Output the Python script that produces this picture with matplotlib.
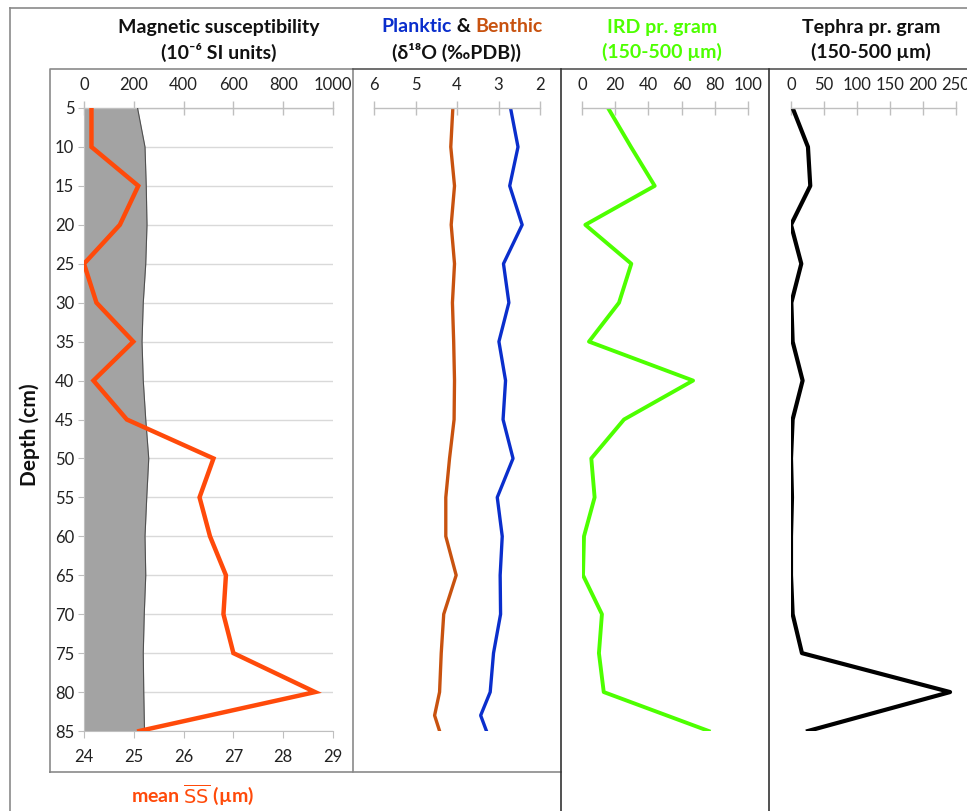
import matplotlib
matplotlib.use("Agg")
import matplotlib.pyplot as plt
from matplotlib.lines import Line2D

plt.rcParams['font.family'] = ['Lato', 'DejaVu Sans']

# ---------------- data ----------------
depth = [5, 10, 15, 20, 25, 30, 35, 40, 45, 50, 55, 60, 65, 70, 75, 80, 85]
depth_iso = [5, 10, 15, 20, 25, 30, 35, 40, 45, 50, 55, 60, 65, 70, 75, 80, 83, 85]

mag_sus = [215, 245, 250, 253, 248, 238, 233, 238, 248, 260, 252, 245, 248, 242, 238, 240, 243]
mean_ss = [24.15, 24.15, 25.09, 24.72, 24.00, 24.25, 24.99, 24.19, 24.86, 26.60,
           26.32, 26.53, 26.85, 26.80, 27.00, 28.64, 25.11]
planktic = [2.71, 2.53, 2.73, 2.43, 2.88, 2.75, 2.99, 2.83, 2.89, 2.65,
            3.03, 2.91, 2.96, 2.95, 3.12, 3.20, 3.43, 3.29]
benthic = [4.10, 4.15, 4.06, 4.14, 4.06, 4.11, 4.08, 4.06, 4.07, 4.18,
           4.27, 4.27, 4.02, 4.32, 4.38, 4.42, 4.54, 4.42]
ird = [15.7, 29.5, 43.8, 2.0, 29.7, 22.3, 4.2, 66.9, 25.3, 5.6,
       7.6, 1.2, 0.6, 12.0, 10.2, 13.1, 76.3]
tephra = [2.5, 25.7, 29.2, 0.0, 15.6, 0.5, 2.5, 17.6, 2.5, 0.0,
          1.5, 0.0, 0.0, 2.5, 16.6, 241, 25.7]

depth_ticks = [5, 10, 15, 20, 25, 30, 35, 40, 45, 50, 55, 60, 65, 70, 75, 80, 85]
ms_ticks = [0, 200, 400, 600, 800, 1000]
ss_ticks = [24, 25, 26, 27, 28, 29]
iso_ticks = [6, 5, 4, 3, 2]
ird_ticks = [0, 20, 40, 60, 80, 100]
tephra_ticks = [0, 50, 100, 150, 200, 250]

# ---------------- colours ----------------
C_SS = '#FF4A0A'
C_PL = '#0A2ECC'
C_BE = '#C8520F'
C_IRD = '#4DFF00'
C_TE = '#000000'
C_FILL = '#A3A3A3'
C_AX = '#BFBFBF'
C_GRID = '#D9D9D9'
C_LBL = '#222222'

W, H = 967, 811
fig = plt.figure(figsize=(W / 100, H / 100), dpi=100)


def fx(x):
    return x / W


def fy(y):
    return 1 - y / H


def add_panel(x0, x1, y0=108, y1=731):
    return fig.add_axes([fx(x0), fy(y1), fx(x1 - x0), (y1 - y0) / H])


def frame_line(xs, ys, color, lw=1.2):
    fig.add_artist(Line2D([fx(v) for v in xs], [fy(v) for v in ys],
                          color=color, lw=lw, transform=fig.transFigure))


# outer frame and panel borders
frame_line([10, 10], [8, 811], '#8A8A8A')
frame_line([10, 967], [8, 8], '#8A8A8A')
frame_line([50, 50, 353, 353, 50], [772, 69, 69, 772, 772], '#8A8A8A')
frame_line([353, 967], [69, 69], '#555555')
frame_line([353, 561], [772, 772], '#8A8A8A')
frame_line([561, 561], [69, 811], '#333333')
frame_line([769, 769], [69, 811], '#333333')

TICK_FS = 12


def style_top(ax, ticks, lim):
    ax.set_xlim(*lim)
    ax.set_ylim(85, 5)
    ax.xaxis.tick_top()
    ax.set_xticks(ticks)
    ax.set_xticklabels([str(t) for t in ticks])
    ax.tick_params(axis='x', which='both', direction='inout', length=10,
                   color=C_AX, width=1, labelsize=TICK_FS, pad=6, labelcolor=C_LBL)
    for s in ['left', 'right', 'bottom']:
        ax.spines[s].set_visible(False)
    ax.spines['top'].set_visible(True)
    ax.spines['top'].set_color(C_AX)
    ax.spines['top'].set_linewidth(1)
    ax.set_yticks([])
    ax.patch.set_visible(False)


# ---------- panel 1 ----------
ax1 = add_panel(84, 333)
ax1b = ax1.twiny()

style_top(ax1, ms_ticks, (0, 1000))
ax1.set_yticks(depth_ticks)
ax1.set_yticklabels([str(d) for d in depth_ticks])
ax1.tick_params(axis='y', direction='out', length=4, color=C_AX, labelsize=TICK_FS,
                pad=3, labelcolor=C_LBL)
ax1.spines['left'].set_visible(True)
ax1.spines['left'].set_color(C_AX)
ax1.set_axisbelow(True)
ax1.grid(axis='y', color=C_GRID, lw=1)
ax1.fill_betweenx(depth, 0, mag_sus, color=C_FILL, lw=0, zorder=2)
ax1.plot(mag_sus, depth, color='#505050', lw=0.8, zorder=3)

ax1b.set_xlim(24, 29)
ax1b.set_ylim(85, 5)
ax1b.xaxis.tick_bottom()
ax1b.set_xticks(ss_ticks)
ax1b.set_xticklabels([str(t) for t in ss_ticks])
ax1b.tick_params(axis='x', direction='out', length=5, color=C_AX, labelsize=TICK_FS,
                 pad=8, labelcolor=C_LBL)
for s in ['left', 'right', 'top']:
    ax1b.spines[s].set_visible(False)
ax1b.spines['bottom'].set_visible(True)
ax1b.spines['bottom'].set_color(C_AX)
ax1b.plot(mean_ss, depth, color=C_SS, lw=3.2, solid_joinstyle='miter', zorder=5)

# ---------- panel 2 ----------
ax2 = add_panel(374, 540)
style_top(ax2, iso_ticks, (6, 2))
ax2.plot(benthic, depth_iso, color=C_BE, lw=2.4)
ax2.plot(planktic, depth_iso, color=C_PL, lw=2.4)

# ---------- panel 3 ----------
ax3 = add_panel(582, 748)
style_top(ax3, ird_ticks, (0, 100))
ax3.plot(ird, depth, color=C_IRD, lw=2.8)

# ---------- panel 4 ----------
ax4 = add_panel(791, 956)
style_top(ax4, tephra_ticks, (0, 250))
ax4.plot(tephra, depth, color=C_TE, lw=3.0)

# ---------------- titles ----------------
TS = 14
FW = 'bold'
fig.text(fx(219), fy(27), 'Magnetic susceptibility', ha='center', va='center',
         fontsize=TS, fontweight=FW, color='#111111')
fig.text(fx(219), fy(52), '(10⁻⁶ SI units)', ha='center', va='center',
         fontsize=TS, fontweight=FW, color='#111111')

parts = [('Planktic', C_PL), (' & ', '#111111'), ('Benthic', C_BE)]
texts = [fig.text(0, fy(27), p, ha='left', va='center', fontsize=TS,
                  fontweight=FW, color=c) for p, c in parts]
fig.canvas.draw()
r = fig.canvas.get_renderer()
widths = [t.get_window_extent(r).width for t in texts]
x = 462 - sum(widths) / 2
for t, w in zip(texts, widths):
    t.set_x(fx(x))
    x += w
fig.text(fx(457), fy(52), '(δ¹⁸O (‰PDB))', ha='center', va='center',
         fontsize=TS, fontweight=FW, color='#111111')

fig.text(fx(662), fy(27), 'IRD pr. gram', ha='center', va='center',
         fontsize=TS, fontweight=FW, color=C_IRD)
fig.text(fx(662), fy(52), '(150-500 µm)', ha='center', va='center',
         fontsize=TS, fontweight=FW, color=C_IRD)

fig.text(fx(871), fy(27), 'Tephra pr. gram', ha='center', va='center',
         fontsize=TS, fontweight=FW, color='#111111')
fig.text(fx(871), fy(52), '(150-500 µm)', ha='center', va='center',
         fontsize=TS, fontweight=FW, color='#111111')

fig.text(fx(30), fy(435), 'Depth (cm)', ha='center', va='center', rotation=90,
         fontsize=15, fontweight=FW, color='#111111')
fig.text(fx(193), fy(795), r'mean $\overline{\mathrm{SS}}$ (µm)', ha='center',
         va='center', fontsize=14, fontweight=FW, color=C_SS)

fig.savefig('out.png', dpi=100)
